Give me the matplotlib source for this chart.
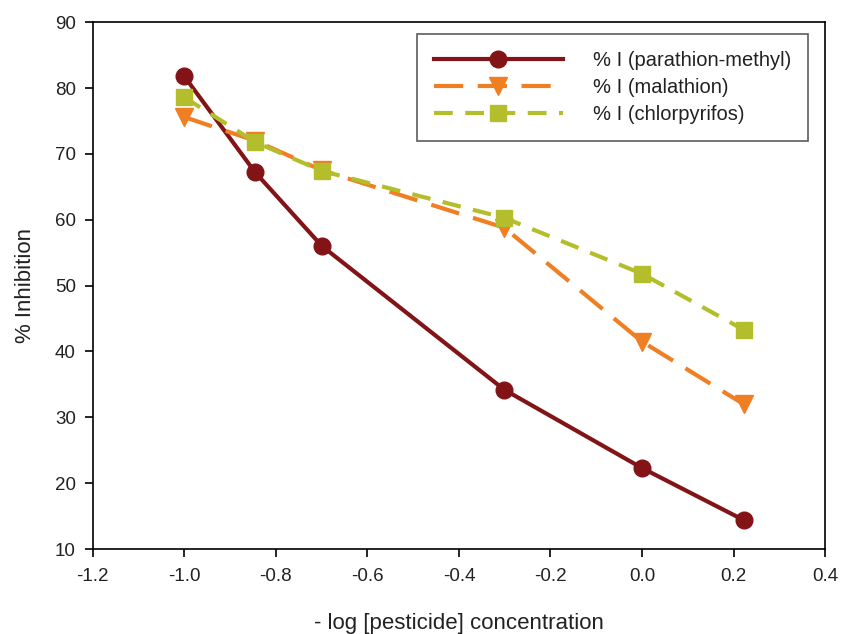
import matplotlib.pyplot as plt

plt.rcParams['font.family'] = ['Liberation Sans', 'DejaVu Sans']

log_conc = [-1.0, -0.845, -0.699, -0.301, 0.0, 0.222]
parathion = [81.8, 67.2, 56.0, 34.2, 22.3, 14.4]
malathion = [75.6, 72.0, 67.5, 58.8, 41.5, 32.0]
chlorpyrifos = [78.6, 71.8, 67.4, 60.3, 51.8, 43.3]

fig = plt.figure(figsize=(8.42, 6.34), dpi=100)
ax = fig.add_axes([0.110, 0.134, 0.870, 0.831])

ax.plot(log_conc, parathion, color='#821418', lw=3, marker='o', ms=12,
        label='% I (parathion-methyl)')
ax.plot(log_conc, malathion, color='#F07E22', lw=3, marker='v', ms=13,
        dashes=(7, 3.5), label='% I (malathion)')
ax.plot(log_conc, chlorpyrifos, color='#B4BE2C', lw=3, marker='s', ms=12,
        dashes=(4.5, 3), label='% I (chlorpyrifos)')

ax.set_xlim(-1.2, 0.4)
ax.set_ylim(10, 90)
ax.set_xticks([-1.2, -1.0, -0.8, -0.6, -0.4, -0.2, 0.0, 0.2, 0.4])
ax.set_xticklabels(['-1.2', '-1.0', '-0.8', '-0.6', '-0.4', '-0.2', '0.0', '0.2', '0.4'])
ax.set_yticks(range(10, 91, 10))
ax.tick_params(labelsize=13.5, direction='out', length=6, width=1.2,
               labelcolor='#222222')
ax.tick_params(axis='x', pad=8)
ax.tick_params(axis='y', pad=6)
for s in ax.spines.values():
    s.set_linewidth(1.2)

ax.set_xlabel('- log [pesticide] concentration', fontsize=16, labelpad=20,
              color='#222222')
ax.set_ylabel('% Inhibition', fontsize=16, labelpad=14, color='#222222')

leg = ax.legend(loc='upper right', bbox_to_anchor=(0.977, 0.977), borderaxespad=0,
                fontsize=14.5, frameon=True, fancybox=False, edgecolor='#333333',
                handlelength=6.4, borderpad=0.85, labelspacing=0.38, handletextpad=1.5)
leg.get_frame().set_linewidth(1.2)
for t in leg.get_texts():
    t.set_color('#222222')

fig.savefig('out.png', dpi=100)
